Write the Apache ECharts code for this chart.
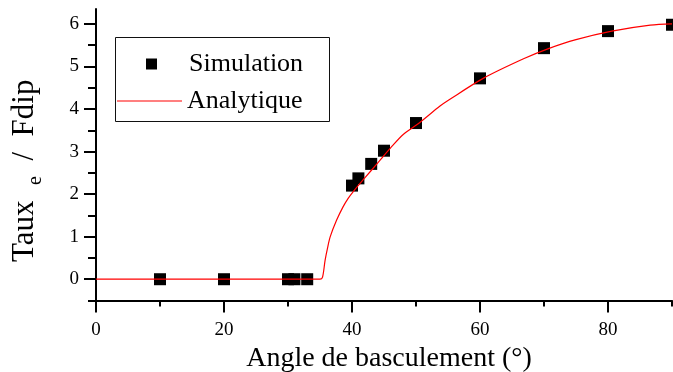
<!DOCTYPE html>
<html><head><meta charset="utf-8">
<script src="https://cdn.jsdelivr.net/npm/echarts@6/dist/echarts.min.js"></script>
<style>html,body{margin:0;padding:0;background:#fff}#c{width:673px;height:372px}</style>
</head><body><div id="c"></div>
<script>
// Simulation points
const simAngles = [10, 20, 30, 31, 33, 40, 41, 43, 45, 50, 60, 70, 80, 90];
const simValues = [0, 0, 0, 0, 0, 2.2, 2.37, 2.71, 3.02, 3.67, 4.72, 5.43, 5.83, 5.98];
// Analytical curve
const curveAngles = [0, 35, 35.4, 35.8, 36.2, 36.6, 37.6, 38.6, 39.4, 40.2, 42, 44, 46, 48, 50.4, 53.75, 55, 60.5, 66.8, 70.7, 75, 80.6, 86.6, 90];
const curveValues = [0, 0, 0.05, 0.45, 0.75, 1.0, 1.39, 1.70, 1.90, 2.06, 2.38, 2.73, 3.08, 3.40, 3.66, 4.07, 4.20, 4.72, 5.18, 5.42, 5.63, 5.83, 5.97, 6.0];
// Ticks
const xMajorTicks = [0, 20, 40, 60, 80];
const xMinorTicks = [0, 10, 20, 30, 40, 50, 60, 70, 80, 90];
const yMajorTicks = [0, 1, 2, 3, 4, 5, 6];
const yMinorTicks = [-0.5, 0, 0.5, 1, 1.5, 2, 2.5, 3, 3.5, 4, 4.5, 5, 5.5, 6];

const FONT = '"Liberation Serif", "DejaVu Serif", serif';
const chart = echarts.init(document.getElementById('c'));
const axisCommonX = { type: 'value', min: 0, max: 90, position: 'bottom', splitLine: { show: false } };
const axisCommonY = { type: 'value', min: -0.5, max: 6.35, position: 'left', splitLine: { show: false } };
const blackLine = { color: '#000', width: 2 };

chart.setOption({
  animation: false,
  backgroundColor: '#fff',
  grid: { left: 96, right: 1, top: 9, bottom: 71.5, containLabel: false, outerBoundsMode: 'none' },
  xAxis: [
    Object.assign({}, axisCommonX, {
      axisLine: { show: true, onZero: false, lineStyle: blackLine },
      axisTick: { show: true, customValues: xMinorTicks, length: 6, lineStyle: blackLine },
      axisLabel: { show: false }
    }),
    Object.assign({}, axisCommonX, {
      axisLine: { show: false, onZero: false },
      axisTick: { show: true, customValues: xMajorTicks, length: 12, lineStyle: blackLine },
      axisLabel: { show: true, customValues: xMajorTicks, fontFamily: FONT, fontSize: 19, color: '#000', margin: 20 },
      name: 'Angle de basculement (°)',
      nameLocation: 'middle', nameGap: 33,
      nameTextStyle: { fontFamily: FONT, fontSize: 28, color: '#000', padding: [0, 0, 0, 10] }
    })
  ],
  yAxis: [
    Object.assign({}, axisCommonY, {
      axisLine: { show: true, onZero: false, lineStyle: blackLine },
      axisTick: { show: true, customValues: yMinorTicks, length: 8, lineStyle: blackLine },
      axisLabel: { show: false }
    }),
    Object.assign({}, axisCommonY, {
      axisLine: { show: false, onZero: false },
      axisTick: { show: true, customValues: yMajorTicks, length: 12, lineStyle: blackLine },
      axisLabel: { show: true, customValues: yMajorTicks, fontFamily: FONT, fontSize: 19, color: '#000', margin: 17 },
      name: '{a|Taux  }{b|e}{a|  /  Fdip}',
      nameLocation: 'middle', nameGap: 50, nameRotate: 90,
      nameTextStyle: {
        fontFamily: FONT, fontSize: 31, color: '#000', padding: [0, 32, 0, 0],
        rich: {
          a: { fontFamily: FONT, fontSize: 31, color: '#000', verticalAlign: 'bottom', padding: [0, 0, 6, 0] },
          b: { fontFamily: FONT, fontSize: 20, color: '#000', verticalAlign: 'bottom' }
        }
      }
    })
  ],
  legend: [
    {
      data: [{ name: 'Simulation', icon: 'rect' }],
      left: 141, top: 46, itemWidth: 11, itemHeight: 11, selectedMode: false,
      textStyle: { fontFamily: FONT, fontSize: 26, color: '#000', padding: [0, 0, 0, 27] }
    },
    {
      data: [{ name: 'Analytique', icon: 'rect' }],
      left: 112, top: 83, itemWidth: 65, itemHeight: 1.2, selectedMode: false,
      textStyle: { fontFamily: FONT, fontSize: 26, color: '#000', padding: [0, 0, 0, 0] }
    }
  ],
  graphic: [
    { type: 'rect', shape: { x: 115.5, y: 37.5, width: 214, height: 84 }, style: { fill: 'none', stroke: '#111', lineWidth: 1 }, z: 10 }
  ],
  series: [
    {
      name: 'Analytique', type: 'line', xAxisIndex: 0, yAxisIndex: 0,
      data: curveAngles.map((a, i) => [a, curveValues[i]]),
      symbol: 'none', smooth: 0.3, lineStyle: { color: '#ff0000', width: 1.2 }, itemStyle: { color: '#ff0000' }, z: 3
    },
    {
      name: 'Simulation', type: 'scatter', xAxisIndex: 0, yAxisIndex: 0,
      data: simAngles.map((a, i) => [a, simValues[i]]),
      symbol: 'rect', symbolSize: 12, itemStyle: { color: '#000', opacity: 1 }, z: 2, clip: false
    }
  ]
});
</script></body></html>
